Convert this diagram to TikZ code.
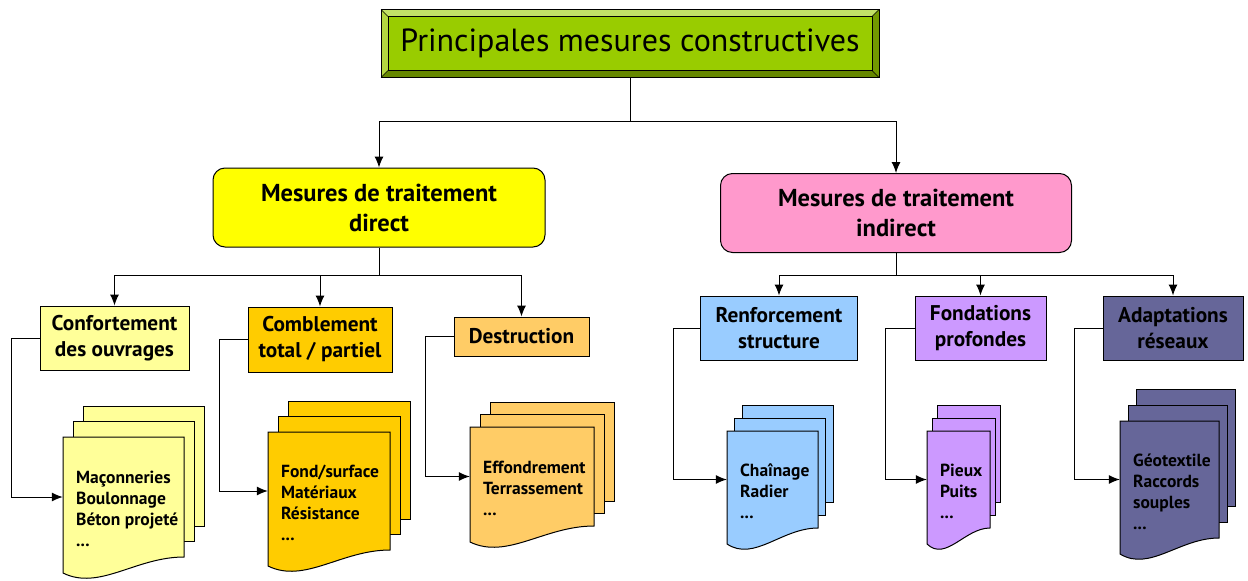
\documentclass[tikz,border=0pt]{standalone}
\usepackage{fontspec}
\setmainfont{PT Sans}
\usepackage{tikz}
\usetikzlibrary{arrows.meta}

\definecolor{titlegreen}{HTML}{99CC00}
\definecolor{bevlight}{HTML}{C2E066}
\definecolor{bevleft}{HTML}{B3D640}
\definecolor{bevdark}{HTML}{739900}
\definecolor{bevbottom}{HTML}{668800}
\definecolor{directyellow}{HTML}{FFFF00}
\definecolor{indirectpink}{HTML}{FF99CC}
\definecolor{confyellow}{HTML}{FFFF99}
\definecolor{combgold}{HTML}{FFCC00}
\definecolor{destrorange}{HTML}{FFCC66}
\definecolor{renfblue}{HTML}{99CCFF}
\definecolor{fondviolet}{HTML}{CC99FF}
\definecolor{adaptslate}{HTML}{666699}

% pile of documents: name, left, top, width, height, dx, dy, colour, text
\newcommand{\docpile}[9]{%
    \draw[pile, fill=#8] ({#2+2*#6},{#3-2*#7}) rectangle ({#2+#4+2*#6},{#3+#5-2*#7});
    \draw[pile, fill=#8] ({#2+#6},{#3-#7}) rectangle ({#2+#4+#6},{#3+#5-#7});
    \draw[pile, fill=#8] (#2,#3) -- ({#2+#4},#3) -- ({#2+#4},{#3+#5})
        .. controls ({#2+0.6*#4},{#3+#5}) and ({#2+0.3*#4},{#3+#5+34}) .. (#2,{#3+#5+16}) -- cycle;
    \node[minimum width=#4, minimum height=#5, inner sep=0] (#1) at ({#2+#4/2},{#3+#5/2}) {};
    \node[doctext, anchor=west] (#1txt) at ({#2+13},{#3+#5/2+12}) {#9};
}

\begin{document}
\begin{tikzpicture}[x=1pt, y=-1pt,
    main/.style={draw, line width=1pt, inner sep=0, align=center},
    mid/.style={main, rounded corners=12, font=\bfseries\fontsize{24.5}{30}\selectfont},
    sub/.style={main, minimum height=64, font=\bfseries\fontsize{21.3}{26}\selectfont},
    doctext/.style={inner sep=0, align=left, font=\bfseries\fontsize{17.5}{21}\selectfont},
    pile/.style={line width=1pt},
    l/.style={line width=1pt},
    n/.style={-{Latex[length=11pt, width=9pt]}, line width=1pt}]
    \useasboundingbox (0,0) rectangle (1248,581);
    % nodes
    \node[main, fill=titlegreen, minimum width=497, minimum height=67] (title) at (630,43.5) {};
    \fill[bevlight] (title.north west) -- (title.north east) -- ([shift={(-7,7)}]title.north east) -- ([shift={(7,7)}]title.north west) -- cycle;
    \fill[bevleft] (title.north west) -- ([shift={(7,7)}]title.north west) -- ([shift={(7,-7)}]title.south west) -- (title.south west) -- cycle;
    \fill[bevdark] (title.north east) -- ([shift={(-7,7)}]title.north east) -- ([shift={(-7,-7)}]title.south east) -- (title.south east) -- cycle;
    \fill[bevbottom] (title.south west) -- ([shift={(7,-7)}]title.south west) -- ([shift={(-7,-7)}]title.south east) -- (title.south east) -- cycle;
    \draw[line width=0.5pt] ([shift={(7,7)}]title.north west) rectangle ([shift={(-7,-7)}]title.south east);
    \draw[line width=0.5pt] (title.north west) -- ([shift={(7,7)}]title.north west) (title.north east) -- ([shift={(-7,7)}]title.north east)
        (title.south west) -- ([shift={(7,-7)}]title.south west) (title.south east) -- ([shift={(-7,-7)}]title.south east);
    \draw[line width=1pt] (title.north west) rectangle (title.south east);
    \node[font=\fontsize{32}{36}\selectfont] (titletxt) at (title.center) {Principales mesures constructives};

    \node[mid, fill=directyellow, minimum width=332, minimum height=79] (direct) at (379,207.5) {Mesures de traitement\\direct};
    \node[mid, fill=indirectpink, minimum width=351, minimum height=79] (indirect) at (896,213) {Mesures de traitement\\indirect};

    \node[sub, fill=confyellow, minimum width=149] (conf) at (114.5,338) {Confortement\\des ouvrages};
    \node[sub, fill=combgold, minimum width=144, minimum height=65] (comb) at (320,339.5) {Comblement\\total / partiel};
    \node[sub, fill=destrorange, minimum width=135, minimum height=39] (destr) at (521.5,336.5) {Destruction};
    \node[sub, fill=renfblue, minimum width=157] (renf) at (779,328) {Renforcement\\structure};
    \node[sub, fill=fondviolet, minimum width=131] (fond) at (980.5,328) {Fondations\\profondes};
    \node[sub, fill=adaptslate, minimum width=140] (adapt) at (1173,328) {Adaptations\\réseaux};

    \docpile{confdoc}{63}{437}{121}{120}{10}{15.5}{confyellow}{Maçonneries\\Boulonnage\\Béton projeté\\...}
    \docpile{combdoc}{268}{432}{122}{118}{10}{15.5}{combgold}{Fond/surface\\Matériaux\\Résistance\\...}
    \docpile{destrdoc}{470}{427}{124}{99}{10}{12.5}{destrorange}{Effondrement\\Terrassement\\...}
    \docpile{renfdoc}{727}{431}{91}{97}{7.5}{13}{renfblue}{Chaînage\\Radier\\...}
    \docpile{fonddoc}{927}{431}{63}{97}{5}{13}{fondviolet}{Pieux\\Puits\\...}
    \docpile{adaptdoc}{1120}{421}{99}{117}{8}{16}{adaptslate}{Géotextile\\Raccords\\souples\\...}

    \coordinate (top) at (630,121);
    \coordinate (left) at (379,275);
    \coordinate (right) at (896,275);
    % edges
    \draw[l] (title) -- (top);
    \draw[n] (top) -| (direct);
    \draw[n] (top) -| (indirect);

    \draw[l] (direct) -- (left);
    \draw[n] (left) -| (conf);
    \draw[n] (left) -| (comb);
    \draw[n] (left) -| (destr);

    \draw[l] (indirect) -- (right);
    \draw[n] (right) -| (renf);
    \draw[n] (right) -| (fond);
    \draw[n] (right) -| (adapt);

    \draw[n] (conf.west) -- ++(-28,0) |- (confdoc.west);
    \draw[n] (comb.west) -- ++(-28,0) |- (combdoc.west);
    \draw[n] (destr.west) -- ++(-28,0) |- (destrdoc.west);
    \draw[n] (renf.west) -- ++(-27,0) |- (renfdoc.west);
    \draw[n] (fond.west) -- ++(-29,0) |- (fonddoc.west);
    \draw[n] (adapt.west) -- ++(-28,0) |- (adaptdoc.west);
\end{tikzpicture}
\end{document}
